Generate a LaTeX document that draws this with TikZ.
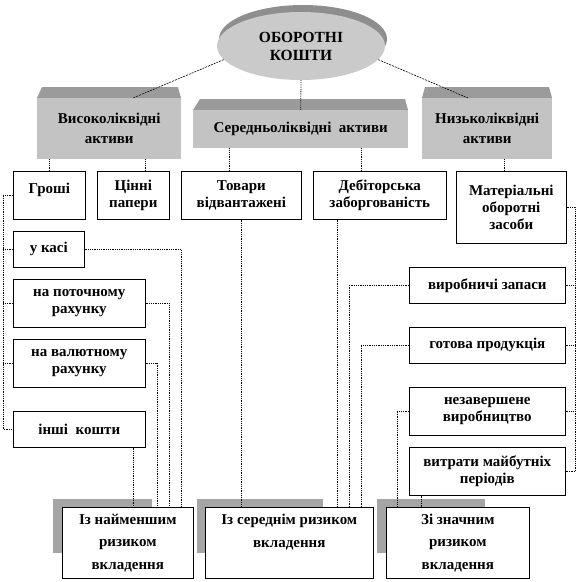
\documentclass[tikz,border=0pt]{standalone}
\usepackage{fontspec}
\setmainfont{Liberation Serif}
\usetikzlibrary{shapes.geometric}
\definecolor{facegrey}{HTML}{C3C3C3}
\definecolor{topgrey}{HTML}{9B9B9B}
\definecolor{discgrey}{HTML}{CACACA}
\definecolor{rimgrey}{HTML}{8E8E8E}
\definecolor{shadegrey}{HTML}{A5A5A5}
\begin{document}
\begin{tikzpicture}[x=1pt,y=-1pt,
  box/.style={draw,line width=.6pt,fill=white,align=center,anchor=north west,inner sep=1pt,font=\bfseries\fontsize{15}{17}\selectfont},
  gbox/.style={fill=facegrey,align=center,anchor=north west,inner sep=1pt,font=\bfseries\fontsize{15}{20}\selectfont},
  riskbox/.style={box,font=\bfseries\fontsize{15}{22.5}\selectfont},
  link/.style={densely dotted,line width=.8pt},
  spoke/.style={dash pattern=on 2pt off 1pt,line width=.6pt}]
\useasboundingbox (0,0) rectangle (578,582);
% disc on top
\fill[rimgrey] (303,39) ellipse (84pt and 34pt);
\node[ellipse,fill=discgrey,minimum width=168pt,minimum height=68pt,inner sep=0pt,align=center,font=\bfseries\fontsize{15.5}{18}\selectfont] (kosht) at (301,46) {ОБОРОТНІ\\КОШТИ};
% grey blocks
\fill[topgrey] (42,87) -- (178,87) -- (181,98) -- (37,98) -- cycle;
\node[gbox,minimum width=144pt,minimum height=61pt] (vys) at (37,98) {Високоліквідні\\активи};
\fill[topgrey] (200,99) -- (405,99) -- (408,110) -- (193,110) -- cycle;
\node[gbox,minimum width=215pt,minimum height=38pt] (sered) at (193,110) {Середньоліквідні\ \ активи};
\fill[topgrey] (425,87) -- (549,87) -- (552,98) -- (422,98) -- cycle;
\node[gbox,minimum width=130pt,minimum height=61pt] (nyzk) at (422,98) {Низьколіквідні\\активи};
% second row
\node[box,minimum width=72pt,minimum height=48pt,text depth=14pt] (groshi) at (13,171) {Гроші};
\node[box,minimum width=72pt,minimum height=48pt] (cinni) at (97,171) {Цінні\\папери};
\node[box,minimum width=120pt,minimum height=48pt] (tovary) at (181,171) {Товари\\відвантажені};
\node[box,minimum width=133pt,minimum height=48pt] (deb) at (313,171) {Дебіторська\\заборгованість};
\node[box,minimum width=110pt,minimum height=72pt] (mat) at (456,171) {Матеріальні\\оборотні\\засоби};
% money
\node[box,minimum width=71pt,minimum height=36pt] (ukasi) at (13,231) {у касі};
\node[box,minimum width=132pt,minimum height=48pt] (potoch) at (13,279) {на поточному\\рахунку};
\node[box,minimum width=132pt,minimum height=48pt] (valut) at (13,339) {на валютному\\рахунку};
\node[box,minimum width=132pt,minimum height=36pt] (inshi) at (13,411) {інші\ \ кошти};
% material
\node[box,minimum width=156pt,minimum height=36pt] (vyrob) at (409,267) {виробничі запаси};
\node[box,minimum width=156pt,minimum height=36pt] (gotova) at (409,327) {готова продукція};
\node[box,minimum width=156pt,minimum height=48pt] (nezav) at (409,387) {незавершене\\виробництво};
\node[box,minimum width=156pt,minimum height=48pt] (vytr) at (409,447) {витрати майбутніх\\періодів};
% risk groups
\fill[shadegrey] (53,499) rectangle (152,553);
\fill[shadegrey] (197,499) rectangle (323,553);
\fill[shadegrey] (377,499) rectangle (485,553);
\node[riskbox,minimum width=131pt,minimum height=71pt] (najm) at (62,507) {Із найменшим\\ризиком\\вкладення};
\node[riskbox,minimum width=168pt,minimum height=71pt,text depth=24pt] (ser) at (205,507) {Із середнім ризиком\\вкладення};
\node[riskbox,minimum width=143pt,minimum height=71pt] (znach) at (386,507) {Зі значним\\ризиком\\вкладення};
% links
\draw[spoke] (kosht.190) -- (133,0 |- vys.north);
\draw[spoke] (kosht.350) -- (468,0 |- nyzk.north);
\draw[link] (kosht.south) -- (sered.north);
\draw[link] (groshi.north) -- (groshi.north |- vys.south);
\draw[link] (145,0 |- vys.south) -- (145,0 |- cinni.north);
\draw[link] (229,0 |- sered.south) -- (229,0 |- tovary.north);
\draw[link] (361,0 |- sered.south) -- (361,0 |- deb.north);
\draw[link] (504,0 |- nyzk.south) -- (504,0 |- mat.north);
\draw[link] (groshi.west) -- ++(-10,0) |- (inshi.west);
\foreach \b in {ukasi,potoch,valut} \draw[link] (\b.west) -- ++(-10,0);
\draw[link] (mat.east) -- ++(9,0) |- (vytr.east);
\foreach \b in {vyrob,gotova,nezav} \draw[link] (\b.east) -- ++(10,0);
\draw[link] (ukasi.east) -| (181,0 |- najm.north);
\draw[link] (potoch.east) -| (169,0 |- najm.north);
\draw[link] (valut.east) -| (157,0 |- najm.north);
\draw[link] (133,0 |- inshi.south) -- (133,0 |- najm.north);
\draw[link] (tovary.south) -- (tovary.south |- ser.north);
\draw[link] (337,0 |- deb.south) -- (337,0 |- ser.north);
\draw[link] (vyrob.west) -| (349,0 |- ser.north);
\draw[link] (gotova.west) -| (361,0 |- ser.north);
\draw[link] (nezav.west) -| (397,0 |- znach.north);
\draw[link] (421,0 |- vytr.south) -- (421,0 |- znach.north);
\end{tikzpicture}
\end{document}
